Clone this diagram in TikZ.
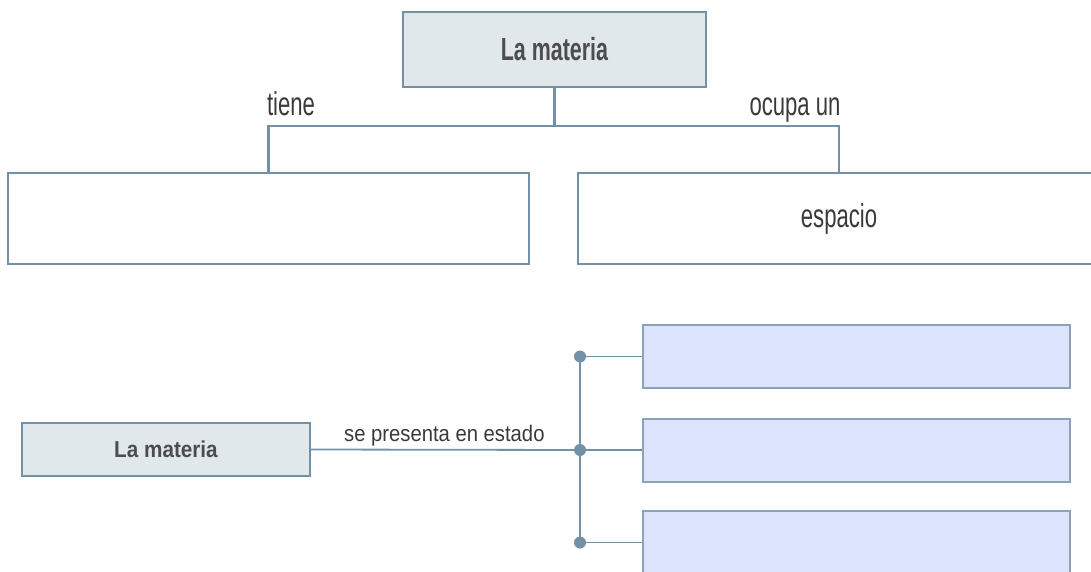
\documentclass[tikz,border=0pt]{standalone}
\usepackage{fontspec}
\setmainfont{Liberation Sans}
\newfontfamily\topfont[FakeStretch=0.67]{Liberation Sans}
\newfontfamily\botfont[FakeStretch=0.9]{Liberation Sans}
\definecolor{edgec}{HTML}{7391A6}
\definecolor{edgel}{HTML}{8AA3B8}
\definecolor{greyfill}{HTML}{E1E8EC}
\definecolor{lavfill}{HTML}{DCE3FD}
\definecolor{txt}{HTML}{3A3A3A}
\definecolor{txtb}{HTML}{4D4D4D}
\tikzset{
  bigbox/.style={draw=edgec, line width=2.6pt, inner sep=0pt, rectangle},
  topbox/.style={bigbox, fill=greyfill, minimum width=303, minimum height=75,
     font=\topfont\bfseries\fontsize{32}{36}\selectfont, text=txtb},
  wbox/.style={bigbox, fill=white, minimum width=521, minimum height=91,
     font=\topfont\fontsize{33}{38}\selectfont, text=txt},
  conn/.style={draw=edgec, line width=2.4pt},
  toplbl/.style={font=\topfont\fontsize{33}{38}\selectfont, text=txt, inner sep=0pt, anchor=base},
  smallbox/.style={draw=edgec, line width=1.4pt, fill=greyfill, inner sep=0pt,
     minimum width=288, minimum height=53, font=\botfont\bfseries\fontsize{23}{27}\selectfont, text=txtb},
  lavbox/.style={draw=edgel, line width=2pt, fill=lavfill, inner sep=0pt,
     minimum width=427, minimum height=63},
  thin/.style={draw=edgec, line width=1.8pt},
  botlbl/.style={font=\botfont\fontsize{22.5}{26}\selectfont, text=txt, inner sep=0pt},
}
\begin{document}
\begin{tikzpicture}[x=1pt,y=-1pt]
\path[use as bounding box, clip] (0,0) rectangle (1091,572);
% top part
\node[topbox] (m1) at (554.5,49.5) {La materia};
\node[wbox] (l) at (268.5,218.5) {};
\node[wbox, minimum width=522] (r) at (839,218.5) {espacio};
\coordinate (hb) at (554.5,126);
\draw[conn] (m1.south) -- (hb);
\draw[conn] (l.north) |- (hb) -| (r.north);
\node[toplbl] (t1) at (291,116) {tiene};
\node[toplbl] (t2) at (795,116) {ocupa un};
% bottom part
\node[smallbox] (m2) at (166,449.5) {La materia};
\node[lavbox] (s1) at (856.5,356.5) {};
\node[lavbox] (s2) at (856.5,450) {};
\node[lavbox] (s3) at (856.5,542.5) {};
\coordinate (d1) at (580,356.5);
\coordinate (d2) at (580,450);
\coordinate (d3) at (580,542.5);
\draw[thin] (m2.east) -- (d2) node[botlbl, midway, above=3pt, xshift=-1pt] (lb) {se presenta en estado};
\draw[thin] (d1) -- (d3);
\draw[thin] (d1) -- (s1.west);
\draw[thin] (d2) -- (s2.west);
\draw[thin] (d3) -- (s3.west);
\foreach \d in {d1,d2,d3} \fill[edgec] (\d) circle [radius=6pt];
\end{tikzpicture}
\end{document}
